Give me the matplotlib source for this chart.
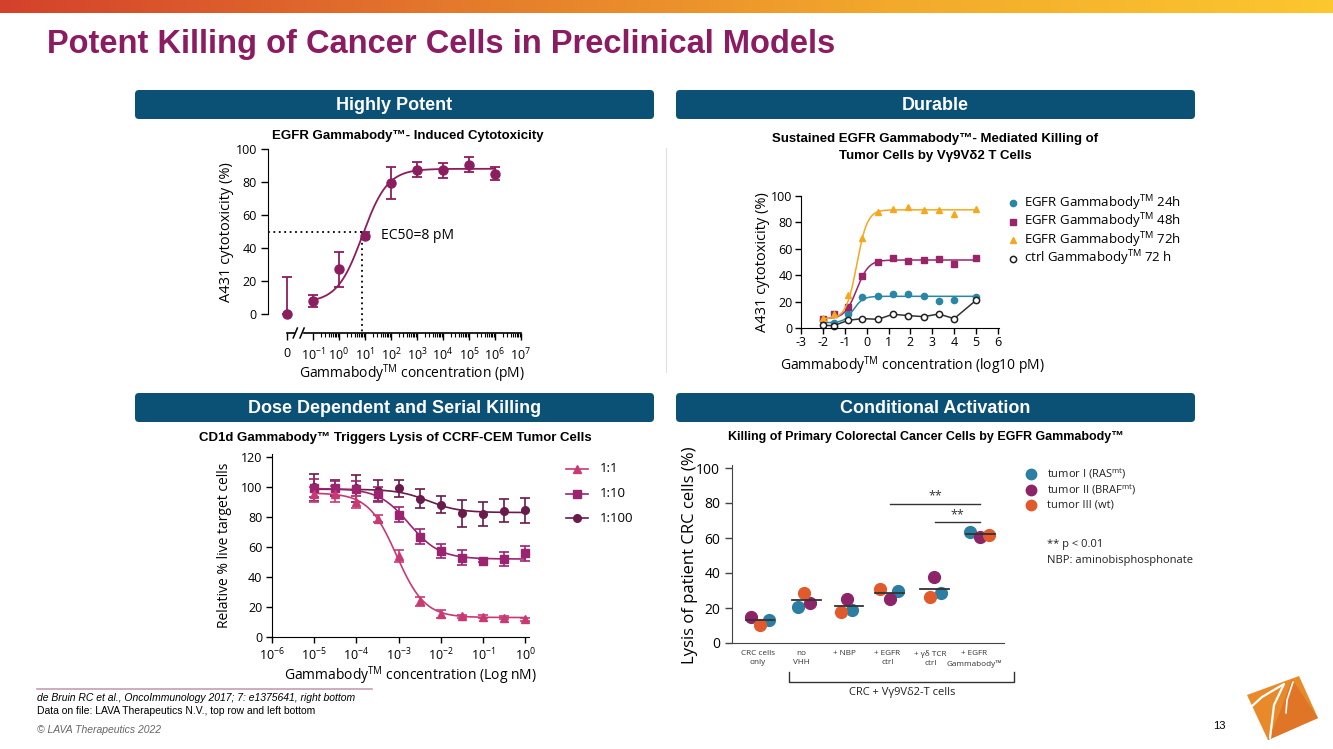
import numpy as np
import matplotlib
matplotlib.use('Agg')
import matplotlib.pyplot as plt
import matplotlib.patches as mpatches
from matplotlib.colors import LinearSegmentedColormap

# ---------------- data ----------------
# top left: EGFR Gammabody induced cytotoxicity (x = log10 pM, None = zero dose)
tl_logconc = [None, -1, 0, 1, 2, 3, 4, 5, 6]
tl_mean = [0, 8, 27, 47.5, 79.5, 87.5, 87, 90.5, 85]
tl_err = [22.5, 3.5, 10.5, 2, 9.5, 4.5, 4.5, 4.5, 4]
tl_fit = (7, 88, 0.9, 0.9)          # bottom, top, logEC50, hill
tl_ec50_log = 0.9

# top right: sustained killing over time (x = log10 pM)
tr_logconc = [-2, -1.5, -0.85, -0.2, 0.52, 1.2, 1.9, 2.6, 3.3, 4.0, 5.0]
tr_24h = [5.8, 4.0, 10.9, 23.3, 24.6, 25.6, 25.6, 24.3, 20.8, 21.5, 23.8]
tr_48h = [7.0, 10.9, 15.7, 39.5, 50.1, 52.9, 50.9, 51.4, 52.2, 48.4, 53.2]
tr_72h = [7.8, 10.9, 24.8, 68.4, 87.6, 90.1, 91.6, 89.1, 89.1, 86.1, 90.4]
tr_ctrl = [2.0, 1.8, 5.8, 7.1, 6.6, 10.4, 9.4, 8.6, 10.6, 7.1, 21.0]
tr_fit_24h = (4, 24, -0.6, 2.0)
tr_fit_48h = (7, 51.5, -0.45, 1.6)
tr_fit_72h = (7, 89.5, -0.45, 1.8)
tr_labels = ['EGFR Gammabody$^{TM}$ 24h', 'EGFR Gammabody$^{TM}$ 48h',
             'EGFR Gammabody$^{TM}$ 72h', 'ctrl Gammabody$^{TM}$ 72 h']

# bottom left: CD1d Gammabody (x = log10 nM)
bl_logconc = [-5, -4.5, -4, -3.5, -3, -2.5, -2, -1.5, -1, -0.5, 0]
bl_1_1 = [95.3, 95.5, 90, 79, 54, 24, 15.5, 14, 13.6, 12.9, 11.8]
bl_1_1_err = [5, 5.5, 4, 2.5, 4, 3, 2.5, 1, 1, 1, 1]
bl_1_10 = [99.3, 99.3, 98.7, 95.3, 81.5, 67, 57.5, 53, 51, 51.9, 55.7]
bl_1_10_err = [6, 5, 5, 5, 5, 5, 4.5, 5, 1, 4.5, 5]
bl_1_100 = [99.8, 99.3, 99.3, 97.5, 99.1, 92.2, 88.2, 82.6, 82, 84.2, 84.4]
bl_1_100_err = [9, 5.5, 9, 7, 5.5, 6.5, 5.5, 9, 8, 7.5, 8.5]
bl_fit_1_1 = (13, 96, -3.05, 1.3)
bl_fit_1_10 = (52, 99, -2.75, 1.2)
bl_fit_1_100 = (83, 98.5, -2.3, 1.2)
bl_labels = ['1:1', '1:10', '1:100']

# bottom right: primary CRC cells
br_categories = ['CRC cells\nonly', 'no\nVHH', '+ NBP', '+ EGFR\nctrl',
                 '+ \u03b3\u03b4 TCR\nctrl', '+ EGFR\nGammabody\u2122']
br_tumor1 = [13.3, 20.3, 18.8, 29.8, 28.7, 63.6]
br_tumor2 = [14.6, 22.8, 24.9, 25.2, 37.6, 60.7]
br_tumor3 = [10.4, 28.8, 18.0, 30.7, 26.2, 61.7]
br_mean = [13.3, 24.7, 20.9, 28.5, 31.1, 62.4]
br_labels = ['tumor I (RAS$^{mt}$)', 'tumor II (BRAF$^{mt}$)', 'tumor III (wt)']

# ---------------- style ----------------
W, H = 1333, 749
plt.rcParams['font.family'] = ['Open Sans', 'DejaVu Sans']
plt.rcParams['mathtext.default'] = 'regular'
plt.rcParams['axes.unicode_minus'] = False

TL_COL = '#8c1d5e'
TR_COLS = ['#2a86a6', '#9a2469', '#f5a81e', '#222222']
BL_COLS = ['#c93a74', '#9b2470', '#6a1a4b']
BR_COLS = ['#2c7ea3', '#8e2468', '#e05a2b']
TITLE_COL = '#8b1c62'
BOX_COL = '#0b5075'


def fourpl(x, p):
    b, t, ec, h = p
    return b + (t - b) / (1 + 10 ** (h * (ec - x)))


def fourpl_down(x, p):
    b, t, ec, h = p
    return b + (t - b) / (1 + 10 ** (h * (x - ec)))


fig = plt.figure(figsize=(W / 100, H / 100), dpi=100)

# overlay in pixel coords for decorations
ov = fig.add_axes([0, 0, 1, 1])
ov.set_xlim(0, W)
ov.set_ylim(H, 0)
ov.axis('off')


def axes_px(left, top, right, bottom):
    a = fig.add_axes([left / W, 1 - bottom / H, (right - left) / W, (bottom - top) / H])
    a.patch.set_alpha(0)
    return a


# header gradient bar
cmap = LinearSegmentedColormap.from_list('bar', ['#d4412b', '#e4782b', '#f2a92c', '#fcc72f'])
bar = fig.add_axes([0, 1 - 13 / H, 1, 13 / H])
bar.imshow(np.linspace(0, 1, 256)[None, :], aspect='auto', cmap=cmap)
bar.axis('off')

ov.text(47, 45, 'Potent Killing of Cancer Cells in Preclinical Models',
        family='Liberation Sans', weight='bold', fontsize=23.5, color=TITLE_COL,
        va='center', ha='left')

# section header boxes
for (x0, y0, txt) in [(135, 90, 'Highly Potent'), (676, 90, 'Durable'),
                      (135, 393, 'Dose Dependent and Serial Killing'),
                      (676, 393, 'Conditional Activation')]:
    w, h = 519, 29
    box = mpatches.FancyBboxPatch((x0 / 100, (H - y0 - h) / 100), w / 100, h / 100,
                                  boxstyle='round,pad=0,rounding_size=0.04',
                                  transform=fig.dpi_scale_trans, fc=BOX_COL, ec='none',
                                  zorder=1)
    ov.add_patch(box)
    ov.text(x0 + w / 2, y0 + h / 2 + 1, txt, family='Liberation Sans', weight='bold',
            fontsize=13, color='white', ha='center', va='center', zorder=3)

# divider
ov.plot([666, 666], [148, 372], color='#e0e0e0', lw=0.8)

# ---------------- top left ----------------
ax = axes_px(268, 145.7, 528.8, 333)
ax.set_xlim(-2.73, 7.3)
ax.set_ylim(-11.5, 102)
ZERO_POS = -2
xs = [ZERO_POS if c is None else c for c in tl_logconc]
lo = [0 if c is None else e for c, e in zip(tl_logconc, tl_err)]
ax.errorbar(xs, tl_mean, yerr=[lo, tl_err], fmt='o', color=TL_COL, ms=6.5,
            capsize=3.5, elinewidth=1.3, capthick=1.3, clip_on=False)
xc = np.linspace(-1, 6, 300)
ax.plot(xc, fourpl(xc, tl_fit), color=TL_COL, lw=1.3)
ax.plot([-2.73, tl_ec50_log], [50, 50], ls=(0, (1, 2)), color='k', lw=1.3)
ax.plot([tl_ec50_log, tl_ec50_log], [50, -11.5], ls=(0, (1, 2)), color='k', lw=1.3)
ax.text(1.6, 47.5, 'EC50=8 pM', fontsize=10, va='center', ha='left')
for s in ['top', 'right', 'bottom']:
    ax.spines[s].set_visible(False)
ax.spines['left'].set_bounds(0, 100)
ax.set_yticks([0, 20, 40, 60, 80, 100])
ax.set_xticks([-2] + list(range(-1, 8)))
ax.set_xticklabels(['0'] + ['10$^{%d}$' % n for n in range(-1, 8)])
minor = [n + np.log10(k) for n in range(-1, 7) for k in range(2, 10)]
ax.set_xticks(minor, minor=True)
ax.tick_params(axis='both', labelsize=9, width=1, length=5, pad=3)
ax.tick_params(axis='x', which='minor', length=3, width=0.8)
ax.tick_params(axis='x', pad=5)
ax.plot([-2, -1.72], [-11.5, -11.5], color='k', lw=1.2, clip_on=False)
ax.plot([-1.35, 7], [-11.5, -11.5], color='k', lw=1.2, clip_on=False)
for bx in [-1.68, -1.42]:
    ax.plot([bx - 0.08, bx + 0.08], [-14.5, -8.5], color='k', lw=1.1, clip_on=False)
ov.text(226, 232, 'A431 cytotoxicity (%)', rotation=90, fontsize=10.5, ha='center', va='center')
ov.text(412, 374, 'Gammabody$^{TM}$ concentration (pM)', fontsize=10, ha='center', va='center')
ov.text(408, 136, 'EGFR Gammabody\u2122- Induced Cytotoxicity', family='Liberation Sans',
        weight='bold', fontsize=9.5, ha='center', va='center')

# ---------------- top right ----------------
ax = axes_px(801, 192, 999, 328)
ax.set_xlim(-3, 6.05)
ax.set_ylim(0, 103)
xc = np.linspace(-2, 5, 300)
series = [tr_24h, tr_48h, tr_72h]
fits = [tr_fit_24h, tr_fit_48h, tr_fit_72h]
marks = ['o', 's', '^']
for y, p, c, m in zip(series, fits, TR_COLS, marks):
    ax.plot(xc, fourpl(xc, p), color=c, lw=1.1)
    ax.plot(tr_logconc, y, m, color=c, ms=4.5, ls='none', clip_on=False)
ax.plot(tr_logconc, tr_ctrl, '-', color='#333333', lw=1.1, clip_on=False)
ax.plot(tr_logconc, tr_ctrl, 'o', mfc='white', mec='#222222', mew=1.1, ms=4.5, clip_on=False)
for s in ['top', 'right']:
    ax.spines[s].set_visible(False)
ax.spines['left'].set_bounds(0, 100)
ax.set_xticks(range(-3, 7))
ax.set_yticks([0, 20, 40, 60, 80, 100])
ax.tick_params(labelsize=9, length=4, width=1, pad=2)
ov.text(763, 262, 'A431 cytotoxicity (%)', rotation=90, fontsize=10.5, ha='center', va='center')
ov.text(912, 366, 'Gammabody$^{TM}$ concentration (log10 pM)', fontsize=10, ha='center', va='center')
ov.text(935, 139, 'Sustained EGFR Gammabody\u2122- Mediated Killing of', family='Liberation Sans',
        weight='bold', fontsize=9.5, ha='center', va='center')
ov.text(935, 156, 'Tumor Cells by V\u03b39V\u03b42 T Cells', family='Liberation Sans',
        weight='bold', fontsize=9.5, ha='center', va='center')
for i, (lab, c, m) in enumerate(zip(tr_labels, TR_COLS, marks + ['o'])):
    yy = 203 + i * 18.5
    if i < 3:
        ov.plot(1013, yy, m, color=c, ms=4.5)
    else:
        ov.plot(1013, yy, 'o', mfc='white', mec=c, mew=1.1, ms=4.5)
    ov.text(1024, yy, lab, fontsize=9.5, va='center', ha='left')

# ---------------- bottom left ----------------
ax = axes_px(272, 454, 528.6, 637)
ax.set_xlim(-6, 0.08)
ax.set_ylim(0, 122)
xc = np.linspace(-5, 0, 300)
bl_series = [(bl_1_1, bl_1_1_err, bl_fit_1_1, '^'),
             (bl_1_10, bl_1_10_err, bl_fit_1_10, 's'),
             (bl_1_100, bl_1_100_err, bl_fit_1_100, 'o')]
for (y, e, p, m), c in zip(bl_series[::-1], BL_COLS[::-1]):
    ax.plot(xc, fourpl_down(xc, p), color=c, lw=1.2)
    ax.errorbar(bl_logconc, y, yerr=e, fmt=m, color=c, ms=5.5, capsize=3.5,
                elinewidth=1.2, capthick=1.2, clip_on=False)
for s in ['top', 'right']:
    ax.spines[s].set_visible(False)
ax.set_xticks(range(-6, 1))
ax.set_xticklabels(['10$^{%d}$' % n for n in range(-6, 1)])
ax.set_yticks(range(0, 121, 20))
ax.tick_params(labelsize=9, length=4, width=1, pad=3)
ov.text(224, 545, 'Relative % live target cells', rotation=90, fontsize=10, ha='center', va='center')
ov.text(410, 676, 'Gammabody$^{TM}$ concentration (Log nM)', fontsize=10, ha='center', va='center')
ov.text(395, 438, 'CD1d Gammabody\u2122 Triggers Lysis of CCRF-CEM Tumor Cells', family='Liberation Sans',
        weight='bold', fontsize=9.5, ha='center', va='center')
for i, (lab, c, m) in enumerate(zip(bl_labels, BL_COLS, ['^', 's', 'o'])):
    yy = 469 + i * 24.5
    ov.plot([566, 588], [yy, yy], color=c, lw=1.2)
    ov.plot(577, yy, m, color=c, ms=5.5)
    ov.text(600, yy, lab, fontsize=9.5, va='center', ha='left')

# ---------------- bottom right ----------------
ax = axes_px(732, 464.5, 1004, 643)
ax.set_xlim(-0.6, 5.7)
ax.set_ylim(0, 102)
offsets = [[0.26, -0.07, 0.18, 0.25, 0.23, -0.08],
           [-0.17, 0.20, 0.06, 0.05, 0.09, 0.15],
           [0.04, 0.07, -0.07, -0.18, -0.02, 0.36]]
line_ctr = [0.05, 0.12, 0.11, 0.05, 0.09, 0.15]
cat_x = np.arange(len(br_categories))
for y, off, c in zip([br_tumor1, br_tumor2, br_tumor3], offsets, BR_COLS):
    ax.plot(cat_x + np.array(off), y, 'o', color=c, ms=8.5, ls='none', clip_on=False)
for xi, lc, m in zip(cat_x, line_ctr, br_mean):
    ax.plot([xi + lc - 0.33, xi + lc + 0.33], [m, m], color='#333333', lw=1.3)
ax.plot([3.06, 5.15], [79.7, 79.7], color='#333333', lw=1)
ax.plot([4.10, 5.15], [68.9, 68.9], color='#333333', lw=1)
ax.text(4.1, 80.5, '**', ha='center', va='bottom', fontsize=9, color='#333333')
ax.text(4.62, 69.7, '**', ha='center', va='bottom', fontsize=9, color='#333333')
for s in ['top', 'right']:
    ax.spines[s].set_visible(False)
ax.spines['bottom'].set_color('#444444')
ax.spines['left'].set_color('#444444')
ax.set_xticks(cat_x)
ax.set_xticklabels(br_categories, fontsize=5.9, color='#333333', linespacing=1.5)
ax.tick_params(axis='x', length=0, pad=5)
ax.set_yticks(range(0, 101, 20))
ax.tick_params(axis='y', labelsize=10, length=5, width=1, color='#444444')
ov.text(690, 555, 'Lysis of patient CRC cells (%)', rotation=90, fontsize=12, ha='center', va='center')
ov.text(926, 437, 'Killing of Primary Colorectal Cancer Cells by EGFR Gammabody\u2122', family='Liberation Sans',
        weight='bold', fontsize=9, ha='center', va='center')
ov.plot([789, 789, 1014, 1014], [672, 682, 682, 672], color='#333333', lw=1)
ov.text(902, 693, 'CRC + V\u03b39V\u03b42-T cells', fontsize=8, ha='center', va='center', color='#222222')
for i, (lab, c) in enumerate(zip(br_labels, BR_COLS)):
    yy = 474 + i * 15.5
    ov.plot(1031, yy, 'o', color=c, ms=7.5)
    ov.text(1047, yy, lab, fontsize=8, va='center', ha='left', color='#222222')
ov.text(1047, 545, '** p < 0.01', fontsize=8, va='center', ha='left', color='#222222')
ov.text(1047, 561, 'NBP: aminobisphosphonate', fontsize=8, va='center', ha='left', color='#222222')

# ---------------- footer ----------------
ov.plot([37, 372], [689, 689], color='#c79cb6', lw=1.2)
ov.text(37, 698, 'de Bruin RC et al., OncoImmunology 2017; 7: e1375641, right bottom',
        family='Liberation Sans', style='italic', fontsize=7.5, va='center')
ov.text(37, 711, 'Data on file: LAVA Therapeutics N.V., top row and left bottom',
        family='Liberation Sans', fontsize=7.5, va='center')
ov.text(37, 730, '\u00a9 LAVA Therapeutics 2022', family='Liberation Sans', style='italic',
        fontsize=7.5, va='center', color='#666666')
ov.text(1213, 726, '13', family='Liberation Sans', fontsize=8, va='center')

# logo
logo = mpatches.Polygon([(1247, 695), (1299, 676), (1318, 718), (1268, 740)],
                        closed=True, fc='#e98a2a', ec='none', joinstyle='round')
ov.add_patch(logo)
ov.add_patch(mpatches.Polygon([(1292, 679), (1318, 718), (1268, 740), (1280, 712)],
                              closed=True, fc='#e07527', ec='none'))
ov.plot([1251, 1262, 1284], [707, 697, 684], color='white', lw=1.6, solid_capstyle='round')
ov.plot([1284, 1274, 1270], [684, 705, 738], color='white', lw=1.6, solid_capstyle='round')
ov.plot([1293, 1287, 1286], [682, 700, 713], color='white', lw=1.2, solid_capstyle='round')

fig.savefig('out.png', dpi=100)
